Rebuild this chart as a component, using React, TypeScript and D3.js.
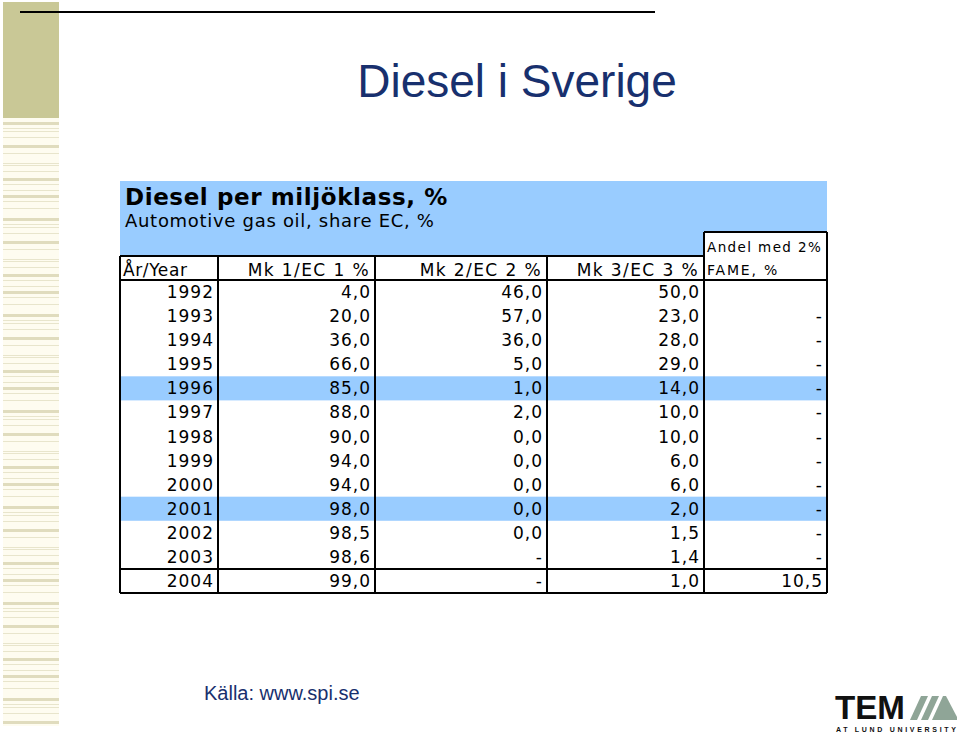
import React from "react";
import * as d3 from "d3";

const years = [1992, 1993, 1994, 1995, 1996, 1997, 1998, 1999, 2000, 2001, 2002, 2003, 2004];
const mk1 = [4, 20, 36, 66, 85, 88, 90, 94, 94, 98, 98.5, 98.6, 99];
const mk2 = [46, 57, 36, 5, 1, 2, 0, 0, 0, 0, 0, null, null];
const mk3 = [50, 23, 28, 29, 14, 10, 10, 6, 6, 2, 1.5, 1.4, 1];
// undefined = empty cell, null = "-"
const fame = [undefined, null, null, null, null, null, null, null, null, null, null, null, 10.5];
const highlighted = [1996, 2001];
const columnLabels = ["År/Year", "Mk 1/EC 1 %", "Mk 2/EC 2 %", "Mk 3/EC 3 %"];
const fameLabel = ["Andel med 2%", "FAME, %"];

const W = 960;
const H = 734;
const navy = "#18306e";
const blue = "#99ccff";
const cellFont = "Verdana, 'DejaVu Sans', sans-serif";
const arial = "'Liberation Sans', Arial, sans-serif";

const locale = d3.formatLocale({ decimal: ",", thousands: " ", grouping: [3], currency: ["", ""] });
const fmt = locale.format(".1f");
const cell = (v: number | null | undefined) => (v === undefined ? "" : v === null ? "-" : fmt(v));

// left decorative stripes (one period of the pattern)
const stripePattern: [number, number, string][] = [
  [0, 3, "#e0dcbe"], [6, 1, "#e8e5cc"], [9, 1, "#e8e5cc"], [15, 1, "#e8e5cc"],
  [23, 3, "#e0dcbe"], [31, 1, "#e8e5cc"], [41, 1, "#e8e5cc"], [43, 1, "#e8e5cc"],
  [49, 1, "#e8e5cc"], [56, 3, "#e0dcbe"], [62, 1, "#e8e5cc"], [68, 1, "#e8e5cc"],
  [73, 3, "#e0dcbe"], [79, 1, "#e8e5cc"], [86, 1, "#e8e5cc"],
];

export default function App() {
  const left = 120;
  const right = 827;
  const colEdges = [left, 218, 375, 547, 704, right];
  const tableTop = 181;
  const headTop = 256;
  const fameTop = 232;
  const bodyTop = 280;
  const bottom = 593;

  const y = d3.scaleBand<string>().domain(years.map(String)).range([bodyTop, bottom]);
  const rowH = y.bandwidth();

  const stripes: { y: number; h: number; c: string }[] = [];
  for (let base = 122; base < 726; base += 96) {
    stripePattern.forEach(([o, h, c]) => {
      if (base + o < 726) stripes.push({ y: base + o, h, c });
    });
  }

  const columns = [years.map(String), mk1.map(cell), mk2.map(cell), mk3.map(cell), fame.map(cell)];

  return (
    <svg width={W} height={H} style={{ position: "absolute", left: 0, top: 0, background: "#fff" }}>
      {/* left decoration */}
      <rect x={3} y={118} width={56} height={608} fill="#fefcf0" />
      <rect x={3} y={2} width={56} height={116} fill="#c9c896" />
      {stripes.map((s, i) => (
        <rect key={i} x={3} y={s.y} width={56} height={s.h} fill={s.c} />
      ))}
      <line x1={20} x2={655} y1={12} y2={12} stroke="#000" strokeWidth={2} />

      <text x={517} y={97} textAnchor="middle" fontFamily={arial} fontSize={46} fill={navy}>
        Diesel i Sverige
      </text>

      {/* table background */}
      <rect x={left} y={tableTop} width={right - left} height={headTop - tableTop} fill={blue} />
      <rect x={colEdges[4]} y={fameTop} width={right - colEdges[4]} height={bodyTop - fameTop} fill="#fff" />
      {highlighted.map((yr) => (
        <rect key={yr} x={left} y={y(String(yr))!} width={right - left} height={rowH} fill={blue} />
      ))}

      <text x={125} y={205} fontFamily={cellFont} fontWeight="bold" fontSize={23} letterSpacing={0.6} fill="#000">
        Diesel per miljöklass, %
      </text>
      <text x={125} y={227} fontFamily={cellFont} fontSize={18} letterSpacing={0.7} fill="#000">
        Automotive gas oil, share EC, %
      </text>

      {/* header row */}
      <g fontFamily={cellFont} fontSize={17} letterSpacing={1.4} fill="#000">
        {columnLabels.map((lab, i) =>
          i === 0 ? (
            <text key={lab} x={colEdges[0] + 3} y={276} letterSpacing={0.6}>{lab}</text>
          ) : (
            <text key={lab} x={colEdges[i + 1] - 5} y={276} textAnchor="end">{lab}</text>
          )
        )}
      </g>
      <text x={colEdges[4] + 3} y={252} fontFamily={cellFont} fontSize={13.5} letterSpacing={1.4} fill="#000">
        {fameLabel[0]}
      </text>
      <text x={colEdges[4] + 3} y={275} fontFamily={cellFont} fontSize={14} letterSpacing={1.8} fill="#000">
        {fameLabel[1]}
      </text>

      {/* body cells */}
      <g fontFamily={cellFont} fontSize={17} letterSpacing={1.0} fill="#000" textAnchor="end">
        {columns.map((col, ci) =>
          col.map((t, ri) => (
            <text key={ci + "-" + ri} x={colEdges[ci + 1] - 4} y={y(String(years[ri]))! + rowH / 2 + 6}>
              {t}
            </text>
          ))
        )}
      </g>

      {/* grid */}
      <g stroke="#000" strokeWidth={2}>
        <line x1={left} x2={colEdges[4]} y1={headTop} y2={headTop} />
        <line x1={colEdges[4]} x2={right} y1={fameTop} y2={fameTop} />
        <line x1={left} x2={right} y1={bodyTop} y2={bodyTop} />
        <line x1={left} x2={right} y1={y("2004")!} y2={y("2004")!} />
        <line x1={left} x2={right} y1={bottom} y2={bottom} />
        {colEdges.map((x, i) => (
          <line key={i} x1={x} x2={x} y1={i >= 4 ? fameTop : headTop} y2={bottom} />
        ))}
      </g>

      <text x={204} y={700} fontFamily={arial} fontSize={20} fill={navy}>
        Källa: www.spi.se
      </text>

      {/* logo */}
      <text x={835} y={719} fontFamily={arial} fontWeight="bold" fontSize={33} textLength={70} lengthAdjust="spacingAndGlyphs" fill="#111">
        TEM
      </text>
      <g fill="#8fa597">
        <polygon points="910,720 917,720 928,696 921,696" />
        <polygon points="921,720 928,720 939,696 932,696" />
        <polygon points="932,720 957,720 957,717 946,696 943,696" />
      </g>
      <text x={836} y={732.3} fontFamily={arial} fontWeight="bold" fontSize={7} textLength={120} lengthAdjust="spacing" fill="#111">
        AT LUND UNIVERSITY
      </text>
    </svg>
  );
}
